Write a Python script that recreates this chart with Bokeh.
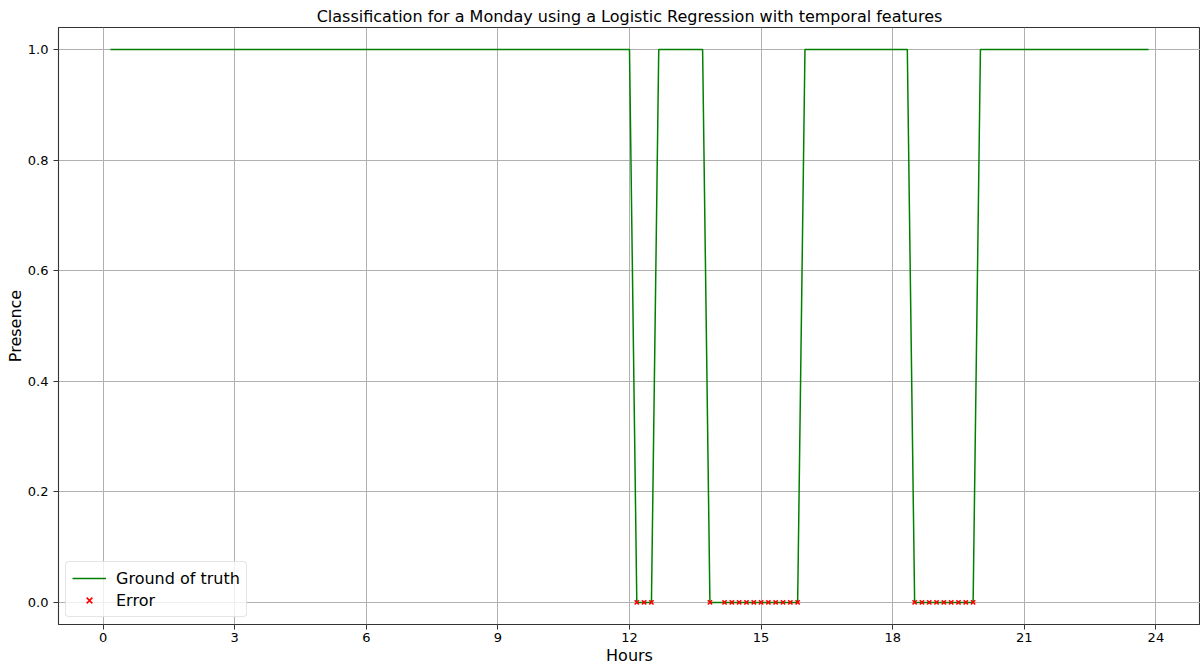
from bokeh.plotting import figure
from bokeh.models import FixedTicker, Range1d, Legend, LegendItem, CustomJSTickFormatter
from bokeh.embed import file_html
from bokeh.resources import INLINE

FONT = "DejaVu Sans"

# Ground truth presence (vertices of the 10-minute series where the state changes)
truth_times = ["00:10", "12:00", "12:10", "12:30", "12:40", "13:40", "13:50",
               "15:50", "16:00", "18:20", "18:30", "19:50", "20:00", "23:50"]
truth_values = [1, 1, 0, 0, 1, 1, 0, 0, 1, 1, 0, 0, 1, 1]

# Misclassified time slots
error_times = ["12:10", "12:20", "12:30",
               "13:50",
               "14:10", "14:20", "14:30", "14:40", "14:50", "15:00",
               "15:10", "15:20", "15:30", "15:40", "15:50",
               "18:30", "18:40", "18:50", "19:00", "19:10", "19:20",
               "19:30", "19:40", "19:50"]
error_values = [0] * len(error_times)

x_ticks = [0, 3, 6, 9, 12, 15, 18, 21, 24]
y_ticks = [0.0, 0.2, 0.4, 0.6, 0.8, 1.0]


def to_hours(t):
    h, m = t.split(":")
    return int(h) + int(m) / 60.0


truth_x = [to_hours(t) for t in truth_times]
error_x = [to_hours(t) for t in error_times]

p = figure(
    frame_width=1142, frame_height=597,
    min_border_left=58, min_border_right=0,
    min_border_top=27, min_border_bottom=42,
    output_backend="svg", toolbar_location=None,
    x_range=Range1d(-1.017, 25.017), y_range=Range1d(-0.04, 1.04),
    title="Classification for a Monday using a Logistic Regression with temporal features",
)

p.title.align = "center"
p.title.text_font = FONT
p.title.text_font_size = "16px"
p.title.text_font_style = "normal"
p.title.text_color = "black"
p.title.offset = 0
p.title.standoff = 3

p.outline_line_color = "#333333"
p.outline_line_width = 1.1
p.outline_line_alpha = 1.0

for ax in (p.xaxis[0], p.yaxis[0]):
    ax.axis_line_color = None
    ax.major_tick_out = 5
    ax.major_tick_in = 0
    ax.major_tick_line_color = "#333333"
    ax.minor_tick_line_color = None
    ax.major_label_text_font = FONT
    ax.major_label_text_font_size = "13px"
    ax.major_label_text_color = "black"
    ax.axis_label_text_font = FONT
    ax.axis_label_text_font_size = "16px"
    ax.axis_label_text_font_style = "normal"
    ax.axis_label_text_color = "black"

p.xaxis.ticker = FixedTicker(ticks=x_ticks)
p.yaxis.ticker = FixedTicker(ticks=y_ticks)
p.yaxis.formatter = CustomJSTickFormatter(code="return tick.toFixed(1);")
p.xaxis.axis_label = "Hours"
p.yaxis.axis_label = "Presence"
p.xaxis.major_label_standoff = 3
p.xaxis.axis_label_standoff = 1
p.yaxis.major_label_standoff = 5
p.yaxis.axis_label_standoff = 0

p.xgrid.grid_line_color = "#b0b0b0"
p.ygrid.grid_line_color = "#b0b0b0"
p.xgrid.grid_line_width = 1
p.ygrid.grid_line_width = 1

truth = p.line(truth_x, truth_values, line_color="#008000", line_width=1.5)
errs = p.scatter(error_x, error_values, marker="x", size=6,
                 line_color="#ff0000", line_width=1.6)

legend = Legend(
    items=[LegendItem(label="Ground of truth", renderers=[truth]),
           LegendItem(label="Error", renderers=[errs])],
    location="bottom_left",
)
legend.label_text_font = FONT
legend.label_text_font_size = "16px"
legend.label_text_color = "black"
legend.glyph_width = 34
legend.glyph_height = 20
legend.label_standoff = 10
legend.spacing = 2
legend.padding = 6
legend.margin = 7
legend.border_line_color = "#cccccc"
legend.border_line_width = 1
legend.border_radius = 4
legend.background_fill_alpha = 0.8
p.add_layout(legend)

open("out.html", "w").write(file_html(p, INLINE))
